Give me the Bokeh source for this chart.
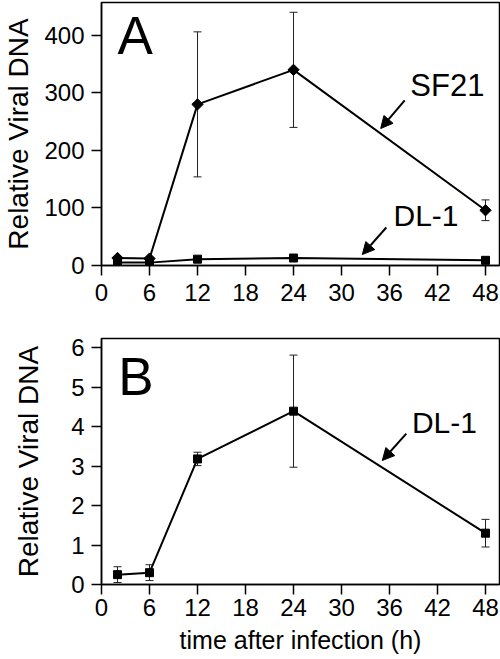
import math
from bokeh.plotting import figure
from bokeh.layouts import column
from bokeh.models import (ColumnDataSource, Range1d, FixedTicker, Whisker, TeeHead,
                          Arrow, NormalHead, Label)
from bokeh.embed import file_html
from bokeh.resources import INLINE

# ---------------- data ----------------
hours = [2, 6, 12, 24, 48]
x_ticks = [0, 6, 12, 18, 24, 30, 36, 42, 48]

sf21_a = [13, 12, 280, 340, 96]
sf21_a_err = [2, 2, 126, 100, 18]
dl1_a = [5, 5, 11, 13, 9]

dl1_b = [0.25, 0.30, 3.18, 4.39, 1.30]
dl1_b_err = [0.20, 0.20, 0.17, 1.42, 0.35]

a_y_ticks = [0, 100, 200, 300, 400]
b_y_ticks = [0, 1, 2, 3, 4, 5, 6]

x_label = "time after infection (h)"
y_label = "Relative Viral DNA"

FONT = "Liberation Sans"


def style(p, yticks, xstand, ylab_stand, xlabel=None):
    p.xgrid.visible = False
    p.ygrid.visible = False
    p.outline_line_color = "black"
    p.outline_line_width = 1.5
    p.outline_line_alpha = 1.0
    for ax in (p.xaxis[0], p.yaxis[0]):
        ax.axis_line_width = 1.5
        ax.axis_line_color = "black"
        ax.major_tick_line_width = 1.5
        ax.major_tick_line_color = "black"
        ax.major_tick_in = 0
        ax.major_tick_out = 10
        ax.minor_tick_line_color = None
        ax.major_label_text_font = FONT
        ax.major_label_text_font_size = "24px"
        ax.major_label_text_color = "black"
        ax.axis_label_text_font = FONT
        ax.axis_label_text_font_style = "normal"
        ax.axis_label_text_color = "black"
    p.xaxis[0].ticker = FixedTicker(ticks=x_ticks)
    p.yaxis[0].ticker = FixedTicker(ticks=yticks)
    p.xaxis[0].major_label_standoff = xstand
    p.yaxis[0].major_label_standoff = 7
    p.yaxis[0].axis_label = y_label
    p.yaxis[0].axis_label_text_font_size = "28px"
    p.yaxis[0].axis_label_standoff = ylab_stand
    if xlabel:
        p.xaxis[0].axis_label = xlabel
        p.xaxis[0].axis_label_text_font_size = "25px"
        p.xaxis[0].axis_label_standoff = 7


def label(p, x, y, text, size):
    p.add_layout(Label(x=x, y=y, text=text, text_font=FONT, text_font_size=size,
                       text_align="left", text_baseline="middle", text_color="black"))


def arrow(p, xs, ys, xe, ye):
    p.add_layout(Arrow(end=NormalHead(size=12, fill_color="black", line_color="black", line_width=1),
                       x_start=xs, y_start=ys, x_end=xe, y_end=ye,
                       line_width=2, line_color="black"))


# ---------------- panel A ----------------
pa = figure(width=500, height=320, output_backend="svg", toolbar_location=None,
            x_range=Range1d(0, 49.75), y_range=Range1d(0, 457),
            min_border_left=101, min_border_right=1, min_border_top=2, min_border_bottom=55)
style(pa, a_y_ticks, 8, 7)

src_sf = ColumnDataSource(dict(x=hours, y=sf21_a,
                               up=[v + e for v, e in zip(sf21_a, sf21_a_err)],
                               lo=[v - e for v, e in zip(sf21_a, sf21_a_err)]))
src_dla = ColumnDataSource(dict(x=hours, y=dl1_a))

pa.add_layout(Whisker(source=src_sf, base="x", upper="up", lower="lo", line_width=1, line_color="#222222",
                      upper_head=TeeHead(size=8, line_width=1, line_color="#222222"),
                      lower_head=TeeHead(size=8, line_width=1, line_color="#222222")))
pa.line("x", "y", source=src_dla, line_width=2, line_color="black")
pa.scatter("x", "y", source=src_dla, marker="square", size=8, fill_color="black", line_color="black")
pa.line("x", "y", source=src_sf, line_width=2, line_color="black")
pa.scatter("x", "y", source=src_sf, marker="square", size=8, angle=math.pi / 4,
           fill_color="black", line_color="black")

label(pa, 2.0, 400, "A", "53px")
label(pa, 38.6, 313, "SF21", "31px")
arrow(pa, 37.9, 287, 34.9, 238)
label(pa, 36.5, 87, "DL-1", "30px")
arrow(pa, 35.6, 66, 32.6, 19)

# ---------------- panel B ----------------
pb = figure(width=500, height=339, output_backend="svg", toolbar_location=None,
            x_range=Range1d(0, 49.75), y_range=Range1d(0, 6.23),
            min_border_left=101, min_border_right=1, min_border_top=18, min_border_bottom=75)
style(pb, b_y_ticks, 4, 24, x_label)

src_b = ColumnDataSource(dict(x=hours, y=dl1_b,
                              up=[v + e for v, e in zip(dl1_b, dl1_b_err)],
                              lo=[v - e for v, e in zip(dl1_b, dl1_b_err)]))
pb.add_layout(Whisker(source=src_b, base="x", upper="up", lower="lo", line_width=1, line_color="#222222",
                      upper_head=TeeHead(size=8, line_width=1, line_color="#222222"),
                      lower_head=TeeHead(size=8, line_width=1, line_color="#222222")))
pb.line("x", "y", source=src_b, line_width=2, line_color="black")
pb.scatter("x", "y", source=src_b, marker="square", size=8, fill_color="black", line_color="black")

label(pb, 2.1, 5.28, "B", "53px")
label(pb, 38.8, 4.11, "DL-1", "30px")
arrow(pb, 38.1, 3.82, 35.1, 3.14)

layout = column(pa, pb, spacing=0)
open("out.html", "w").write(file_html(layout, INLINE))
